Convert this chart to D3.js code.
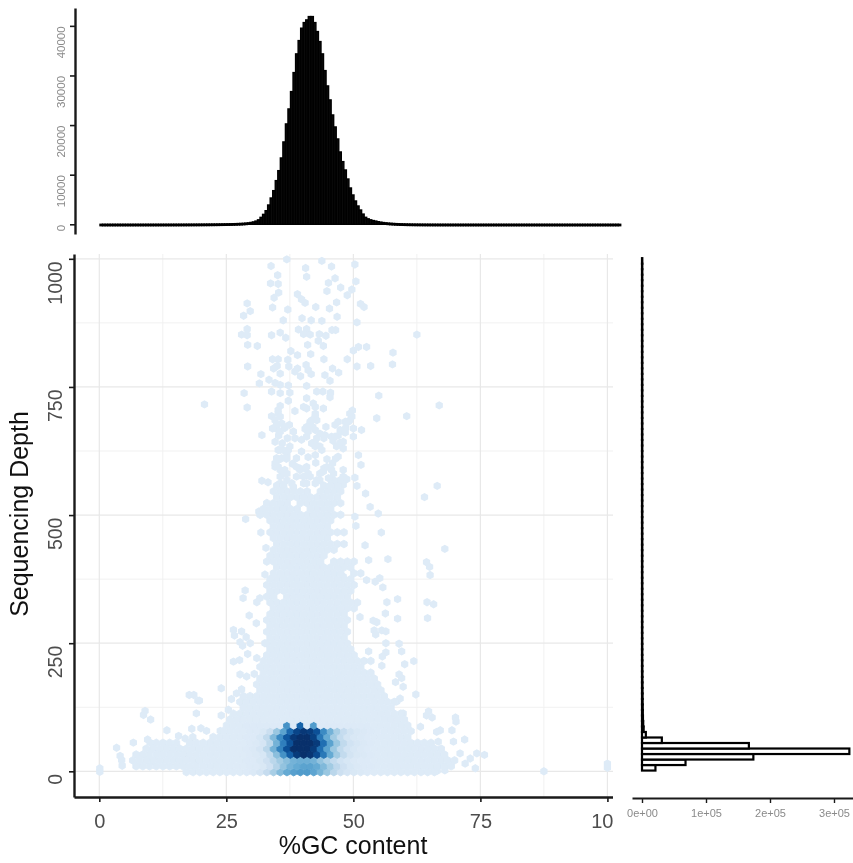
<!DOCTYPE html>
<html>
<head>
<meta charset="utf-8">
<title>GC content vs sequencing depth</title>
<script src="https://cdnjs.cloudflare.com/ajax/libs/d3/7.8.5/d3.min.js"></script>
<style>
  html, body { margin: 0; padding: 0; background: #fff; }
  svg { display: block; filter: blur(0.6px); }
  text { font-family: "Liberation Sans", Arimo, Helvetica, sans-serif; }
</style>
</head>
<body>
<svg id="chart" width="853" height="863"></svg>
<script>
// top histogram: reads per 0.5 %GC bin, starting at 0
const gcCounts = [
  0,0,0,0,0,0,0,0,0,0, 0,0,0,1,1,1,1,1, 2,2,2,2,3,3,4,4,5,5,
  6,7,8,9,10,12,14,15,17,20, 22,25,28,32,36,40,45,50,56,64, 72,80,90,100,115,130,150,170,200,240,
  290,370,480,650,900,1400,2000,2740,3890,5300, 6780,8800,10810,13370,16600,20230,23250,26750,30580,34350,
  37030,39530,40660,41200,41870,41870,40660,38850,36830,34350, 30980,27890,25070,22040,19620,17200,14580,12630,10950,9130,
  7320,5910,4700,3690,2880,2060,1410,1100,900,750, 650,520,430,350,290,240,200,165,135,110,
  90,75,60,50,42,35,28,24,20,16, 13,11,9,8,6,5,4,4,3,3, 2,2,2,1,1,1,1,1,1,1,
  0,0,0,0,0,0,0,0,0,0, 0,0,0,0,0,0,0,0,0,0, 0,0,0,0,0,0,0,0,0,0, 0,0,0,0,0,0,0,0,0,0,
  0,0,0,0,0,0,0,0,0,0, 0,0,0,0,0,0,0
];
const gcBinWidth = 0.5;

// right histogram: contigs per depth bin, lowest bin first
const depthBinWidth = 10.75;
const depthBinStart = 1.5;
const depthCounts = [
  21000,68000,174000,324000,167000,31000,6000,2600,1900,1500,
  1300,1150,1000,900,820,750,690,640,590,540, 500,470,440,410,380,360,340,320,300,280,
  260,250,235,220,205,195,185,175,165,155, 145,140,130,125,118,110,105,100,95,90,
  85,80,76,72,68,64,60,57,54,50, 48,45,42,40,38,36,34,32,30,28,
  26,25,23,22,20,19,18,17,16,15, 14,13,12,11,10,9,8,7,6,5, 4,3,2
];

// main panel: hex rows of the solid area, as [gcFrom, gcTo, ...] per row (row 0 is lowest)
const hexRowRuns = [
  [16.5,65.5],[6.6,69.7],[6.4,70.4],[7.6,68.4],[9.4,67],[11.3,15,18,65.7],[23,61.2],[24.4,60.8],[25.7,60.2],
  [26,59.5],[27,59],[27.7,58],[28,57.8],[28,56.6],[31,56],[31.6,55.3],
  [31.3,53.9],[32,53.3],[32.3,52],[32.6,50.7,52,54],[33,50],[33.3,49],[33.3,49],[33.3,48.7],
  [33.3,49.3],[33.6,48.7],[33.6,48.4],[33.7,48.4],[33.7,45.4,46.2,50],[33.9,45.4,46.5,50.5],[33.3,34.6,36.9,44.8,45.5,48.5],
  [33.9,36.9,37.9,46,47,49],[33.3,36.9,37.9,46,47.5,50.5],[33.9,36.2,37.2,44.8,46,50],[34.3,36.2,37.5,47.4,50,52],[34.9,46.7,48,50],
  [33.6,44.1,46.1,50.7],[33.9,43.8],[34.6,40.2,41.1,46.1],[34.6,39.5,40.8,48.7],[34.6,39.5,40.8,45.4],
  [33.9,42.1,43.4,48.4],[34.3,38.2,39.2,41.5,42.5,45.4],[33.9,37.5,38.5,42.1,43.4,46.1],
  [32.3,35.6,37.2,40.8,42.5,47.1],[32.3,35.9,36.9,39.5,42.1,46.1],[33.6,37.5,39.5,42.1,43.4,47.1],
  [34.3,38.2,39.5,43.4,44.1,47.4],[34.6,40.8,43.8,47.7],[34.6,36.9,44.1,47.4]
];

// main panel: counts (as % of the top of the colour ramp) of the hex cells around the peak
const coreFirstColumn = 22;
const coreRows = [
  [13,14,17,24,34,44,52,56,58,58,54,47,38,28,21,17,15,14,13],
  [13,13,15,20,30,40,48,52,55,55,52,45,36,27,20,16,14,13,13],
  [13,13,15,20,28,36,42,48,50,50,48,40,32,25,19,16,14,13,13],
  [13,14,16,26,42,62,82,96,100,98,90,72,52,36,25,18,15,14,13],
  [13,14,17,28,48,68,88,100,100,100,96,76,55,38,26,19,16,14,13],
  [13,14,17,28,48,70,88,100,100,100,96,76,55,38,26,19,16,14,13],
  [13,13,16,26,45,65,85,97,100,100,94,72,52,36,25,18,15,14,13],
  [13,13,15,22,38,55,78,92,97,95,88,65,48,34,24,18,15,14,13],
  [13,13,13,13,13,13,62,13,80,13,58,13,13,13,13,13,13,13,13]
];
const baseCount = 12.5;

// main panel: single isolated hex cells, [%GC, depth]
const sparsePoints = [
  [33.8,986],[36.9,999],[40.6,982],[43.8,996],[45.7,985],[50.3,989],[35.1,968],[40.8,965],[46.4,962],[33.7,952],
  [35.2,951],[45.1,953],[50.5,956],[47.5,944],[49.7,940],[44.8,937],[48.8,929],[35.3,934],[34.4,924],[39,931],
  [39.8,921],[40.5,914],[29.1,913],[46.7,915],[51.4,912],[52.1,906],[34.1,905],[37.1,901],[42.6,906],[45.3,903],
  [29.7,898],[28.4,889],[46.8,887],[36.2,880],[39.9,884],[41.7,880],[43.8,879],[50.7,876],[29.1,863],[28,852],
  [29.1,851],[33.9,851],[35.6,856],[39.2,862],[40.8,863],[40.2,853],[41.5,852],[45.8,861],[46.5,861],[36.7,846],
  [43.3,853],[44.6,850],[62.5,852],[43.1,840],[29.2,832],[31.1,830],[41,832],[44.1,830],[51,828],[52.6,828],
  [50,821],[57.8,817],[37.7,820],[39,812],[41.6,814],[34.1,804],[35.2,804],[37.1,803],[44.2,804],[48.8,804],
  [35,791],[37.3,790],[40.7,793],[50.7,790],[53.4,791],[57.7,794],[29.2,790],[34.3,786],[39,786],[45.9,786],
  [41.1,783],[35.6,776],[38.5,780],[39.6,771],[41.7,775],[47.1,778],[44.4,773],[31.8,775],[33.4,764],[31.5,757],
  [45.4,762],[34.6,758],[35.6,754],[37.2,753],[40.8,752],[33.9,741],[35.6,738],[42.8,741],[44,741],[45.5,739],
  [28.5,738],[37.5,739],[40.8,728],[37.2,723],[45.4,730],[55,733],[20.7,716],[29.1,710],[35.6,713],[42.1,718],
  [66.9,714],[44.1,708],[38.5,703],[40.2,711],[49.8,704],[60.5,693],[54.6,689],[33.9,693],[42.5,698],[35.2,698],
  [34.6,685],[35.9,679],[41.5,682],[42.8,685],[46.4,676],[48.4,682],[49.3,685],[44.6,672],[51.6,666],[48,663],
  [32,656],[43.4,659],[45.7,653],[50,653],[38.2,663],[40.8,653],[42.5,643],[34.6,643],[46.7,634],[48,630],
  [35.6,627],[37.2,627],[39.8,624],[43.8,627],[51,617],[47,614],[44.8,609],[38.8,611],[41.1,613],[51.5,598],
  [45.9,601],[35.2,607],[34.6,594],[39.5,591],[40.8,594],[44.2,591],[48,588],[32,567],[33.2,564],[35.6,575],
  [36.2,581],[38.8,575],[41.5,575],[43.4,581],[46.1,581],[50.3,573],[66.5,557],[37.9,562],[42.8,568],[47.4,568],
  [50.7,557],[35.9,559],[40.2,562],[45.7,562],[36.5,670],[34.9,668],[40.5,668],[42,672],[35.3,655],[37,650],
  [41.8,640],[36,640],[46,645],[44.2,650],[48.5,670],[47,655],[38,600],[42.6,602],[36.8,610],[46.5,610],
  [35.6,692],[34.9,676],[34.1,669],[35.6,663],[36.5,672],[37.4,676],[41.5,679],[40.8,672],[41.8,685],[42.5,692],
  [41.1,663],[42.5,666],[44.4,656],[46.4,653],[47.4,666],[48.4,661],[47,682],[49,682],[49.7,692],[49.3,698],
  [50,669],[38.5,650],[39.8,647],[42.8,650],[42.5,634],[43.4,634],[47.4,641],[48,643],[35.2,627],[36.2,627],
  [36.9,620],[37.5,634],[36.9,611],[35.9,611],[34.9,611],[34.6,601],[35.2,594],[35.6,588],[36.5,588],[36.9,581],
  [38.8,594],[39.5,588],[40.5,591],[41.1,581],[40.2,575],[42.5,617],[44.8,594],[44.1,585],[45.7,588],[46.1,568],
  [48,575],[48.7,570],[43.4,568],[45.1,572],[36.9,568],[35.6,562],[38.2,555],[40.8,562],[42.5,562],[46.7,555],
  [48,559],[42.5,711],[40.8,708],[35.2,705],
  [64,535],[52.4,542],[53.3,516],[54.9,503],[50.3,497],[50.5,479],[28.8,492],[31.8,466],[31.4,507],[55.5,466],
  [32.8,436],[52.3,441],[68,434],[56.8,414],[53,412],[64.4,408],[65,399],[65.1,383],[32.6,384],[48,380],
  [52.6,373],[55.2,377],[54.3,370],[55.8,359],[28.7,353],[28.3,338],[31.6,338],[31,330],[56.6,330],[58.7,336],
  [64.5,330],[65.8,326],[29.5,304],[30.9,289],[56.3,308],[58.7,298],[64.6,299],[53.9,294],[54.6,291],[51.3,301],
  [26.4,276],[28,273],[26.6,265],[28.9,262],[27.7,252],[28.2,245],[29.7,250],[32.6,250],[55.6,275],[56.4,273],
  [54.1,275],[54.4,267],[56.4,250],[59,249],[59.5,234],[53,234],[56.4,232],[55.7,224],[29.2,229],[26.4,214],
  [27.6,217],[31,221],[61.9,215],[60.1,209],[55.6,206],[27.7,189],[29,185],[30.5,190],[59,189],[59.5,182],
  [58.3,174],[59.8,165],[24,162],[62.3,150],[28,160],[26,141],[27,152],[19.7,138],[59.2,142],[58.5,136],
  [25.4,120],[24,109],[64.8,117],[64.4,109],[65.5,105],[70.1,105],[59.8,113],[28.3,136],[17.7,149],[18.6,149],
  [19.4,138],[9,118],[8.7,110],[10.1,101],[19.1,113],[13.3,80],[18.2,83],[20,84],[21.1,79],[23.8,79],
  [15.6,69],[16.9,64],[18.4,67],[3.4,46],[6.7,56],[9.5,62],[10,56],[4.1,30],[4.4,22],[4.5,11],
  [0.1,6],[0.1,-1],[70.2,97],[63.2,87],[67.1,80],[66.4,77],[69.4,80],[71.9,62],[69.7,58],[66.7,58],
  [71,35],[74.3,35],[75.8,32],[73,25],[72,15],[74,6],[87.5,0],[100,15],[100,7],[68,2],[66.5,1]
];

// axis ticks
const gcTicks = [0, 25, 50, 75, 100];
const gcMinorTicks = [12.5, 37.5, 62.5, 87.5];
const depthTicks = [0, 250, 500, 750, 1000];
const depthMinorTicks = [125, 375, 625, 875];
const topCountTicks = [0, 10000, 20000, 30000, 40000];
const rightCountTicks = [0, 100000, 200000, 300000];
const rightCountLabels = ['0e+00', '1e+05', '2e+05', '3e+05'];

const AXIS_COLOR = '#1a1a1a';
const LABEL_COLOR = '#4d4d4d';
const SMALL_LABEL_COLOR = '#8a8a8a';
const GRID_COLOR = '#e8e8e8';
const GRID_MINOR_COLOR = '#f1f1f1';

const svg = d3.select('#chart');

const x = d3.scaleLinear().domain([-4.98, 101.1]).range([74, 613]);
const y = d3.scaleLinear().domain([-50.1, 1009.4]).range([797, 254]);
const xTop = d3.scaleLinear().domain([0, 102.5]).range([100, 620.7]);
const yTop = d3.scaleLinear().domain([-1957, 43600]).range([234, 8]);
const xRight = d3.scaleLinear().domain([-15625, 329700]).range([632, 853]);

function styleAxis(g, fontSize, color, strokeWidth, tickWidth) {
  g.select('.domain').attr('stroke', AXIS_COLOR).attr('stroke-width', strokeWidth);
  g.selectAll('.tick line').attr('stroke', AXIS_COLOR).attr('stroke-width', tickWidth);
  g.selectAll('.tick text').attr('fill', color).attr('font-size', fontSize);
}

// labels read upwards and finish just under their tick
function rotateTickLabels(g, baseline, overhang) {
  g.selectAll('.tick text')
    .attr('transform', 'rotate(-90)')
    .attr('x', -overhang)
    .attr('y', baseline)
    .attr('dy', 0)
    .attr('text-anchor', 'end');
}

// ---- grid
const grid = svg.append('g');
grid.selectAll('.gx').data(gcMinorTicks).join('line')
  .attr('x1', d => x(d)).attr('x2', d => x(d)).attr('y1', 254).attr('y2', 797)
  .attr('stroke', GRID_MINOR_COLOR).attr('stroke-width', 1);
grid.selectAll('.gy').data(depthMinorTicks).join('line')
  .attr('x1', 74).attr('x2', 613).attr('y1', d => y(d)).attr('y2', d => y(d))
  .attr('stroke', GRID_MINOR_COLOR).attr('stroke-width', 1);
grid.selectAll('.gx2').data(gcTicks).join('line')
  .attr('x1', d => x(d)).attr('x2', d => x(d)).attr('y1', 254).attr('y2', 797)
  .attr('stroke', GRID_COLOR).attr('stroke-width', 1.2);
grid.selectAll('.gy2').data(depthTicks).join('line')
  .attr('x1', 74).attr('x2', 613).attr('y1', d => y(d)).attr('y2', d => y(d))
  .attr('stroke', GRID_COLOR).attr('stroke-width', 1.2);

// ---- hex cells
const gcStep = 1.319;
const depthStep = 11.41;
const depthOrigin = -1.5;

function hexPath(radius) {
  return d3.range(6).map(k => {
    const a = Math.PI / 6 + k * Math.PI / 3;
    return `${k ? 'L' : 'M'}${radius * Math.cos(a)},${radius * Math.sin(a)}`;
  }).join('') + 'Z';
}

const shade = d => d3.interpolateBlues(d / 100);

const cells = [];
hexRowRuns.forEach((runs, row) => {
  const shift = row % 2 ? gcStep / 2 : 0;
  for (let r = 0; r < runs.length; r += 2) {
    const first = Math.round((runs[r] - shift) / gcStep);
    const last = Math.round((runs[r + 1] - shift) / gcStep);
    for (let col = first; col <= last; col++) {
      const core = coreRows[row] ? coreRows[row][col - coreFirstColumn] : undefined;
      cells.push({ gc: col * gcStep + shift, depth: depthOrigin + row * depthStep, count: core === undefined ? baseCount : core });
    }
  }
});

const hexes = svg.append('g');
hexes.selectAll('.sparse').data(sparsePoints).join('path')
  .attr('class', 'sparse')
  .attr('d', hexPath(4.2))
  .attr('transform', d => `translate(${x(d[0])},${y(d[1])})`)
  .attr('fill', shade(baseCount));
hexes.selectAll('.cell').data(cells).join('path')
  .attr('class', 'cell')
  .attr('d', hexPath(3.87))
  .attr('transform', d => `translate(${x(d.gc)},${y(d.depth)})`)
  .attr('fill', d => shade(d.count))
  .attr('stroke', d => shade(d.count))
  .attr('stroke-width', 0.9);

// ---- main axes
const xAxis = svg.append('g').attr('transform', 'translate(0,797)')
  .attr('clip-path', 'url(#xAxisClip)')
  .call(d3.axisBottom(x).tickValues(gcTicks).tickSize(5).tickSizeOuter(0).tickPadding(12).tickFormat(d3.format('d')));
styleAxis(xAxis, 20, LABEL_COLOR, 2.4, 1.6);

svg.append('clipPath').attr('id', 'xAxisClip').append('rect')
  .attr('x', 60).attr('y', -4).attr('width', 553).attr('height', 50);

const yAxis = svg.append('g').attr('transform', 'translate(74,0)')
  .call(d3.axisLeft(y).tickValues(depthTicks).tickSize(5).tickSizeOuter(0).tickFormat(d3.format('d')));
styleAxis(yAxis, 19.5, LABEL_COLOR, 2.4, 1.6);
rotateTickLabels(yAxis, -12, 2);

svg.append('text').attr('x', 353).attr('y', 854).attr('text-anchor', 'middle')
  .attr('font-size', 25).attr('fill', '#111').text('%GC content');
svg.append('text').attr('transform', 'translate(28,514) rotate(-90)').attr('text-anchor', 'middle')
  .attr('font-size', 25).attr('fill', '#111').text('Sequencing Depth');

// ---- top histogram
svg.append('g').selectAll('rect').data(gcCounts).join('rect')
  .attr('x', (d, i) => xTop(i * gcBinWidth))
  .attr('width', xTop(gcBinWidth) - xTop(0))
  .attr('y', d => yTop(d))
  .attr('height', d => Math.max(1.4, yTop(0) - yTop(d)))
  .attr('fill', '#0a0a0a')
  .attr('stroke', '#000')
  .attr('stroke-width', 1.4);

const topAxis = svg.append('g').attr('transform', 'translate(75,0)')
  .call(d3.axisLeft(yTop).tickValues(topCountTicks).tickSize(5).tickSizeOuter(0).tickFormat(d3.format('d')));
styleAxis(topAxis, 11.5, SMALL_LABEL_COLOR, 2.4, 1.6);
rotateTickLabels(topAxis, -10, 0);

// ---- right histogram
svg.append('g').selectAll('rect').data(depthCounts).join('rect')
  .attr('x', xRight(0))
  .attr('width', d => Math.max(0.3, xRight(d) - xRight(0)))
  .attr('y', (d, i) => y(depthBinStart + (i + 1) * depthBinWidth))
  .attr('height', y(0) - y(depthBinWidth))
  .attr('fill', '#fff')
  .attr('stroke', '#000')
  .attr('stroke-width', 2.2);

const rightAxis = svg.append('g').attr('transform', 'translate(0,798)')
  .call(d3.axisBottom(xRight).tickValues(rightCountTicks).tickSize(5).tickSizeOuter(0).tickPadding(6)
    .tickFormat((d, i) => rightCountLabels[i]));
styleAxis(rightAxis, 11, SMALL_LABEL_COLOR, 2.2, 1.4);
</script>
</body>
</html>
